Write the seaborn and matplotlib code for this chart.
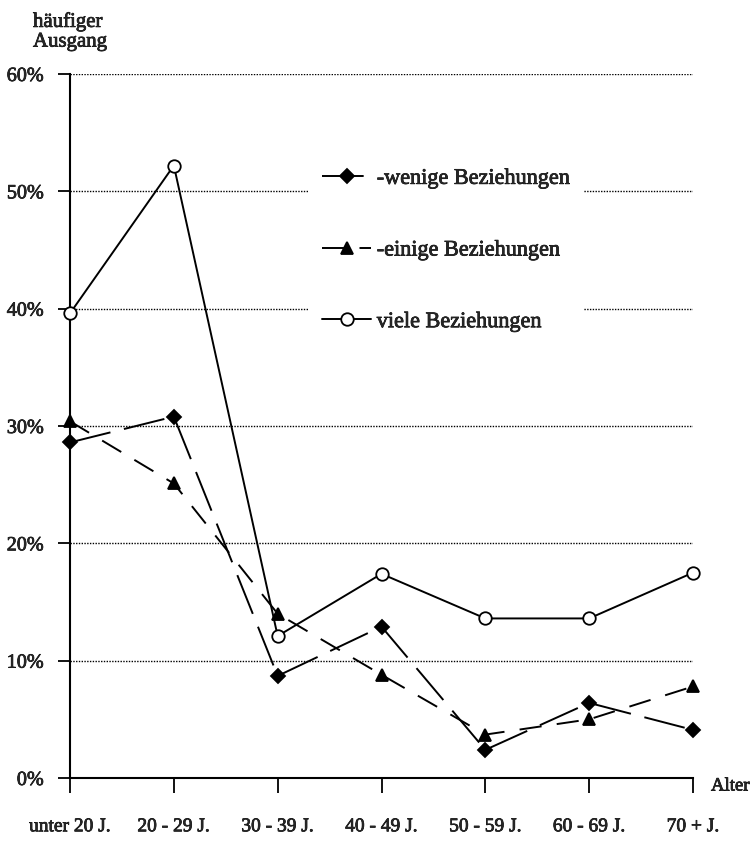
import matplotlib
matplotlib.use("Agg")
import matplotlib.pyplot as plt
import matplotlib.patheffects as pe
import seaborn as sns
import pandas as pd
import numpy as np

# ---- data ----
categories = ["unter 20 J.", "20 - 29 J.", "30 - 39 J.", "40 - 49 J.",
              "50 - 59 J.", "60 - 69 J.", "70 + J."]
wenige = [28.6, 30.8, 8.7, 12.9, 2.4, 6.4, 4.1]
einige = [30.4, 25.1, 14.0, 8.8, 3.7, 5.0, 7.8]
viele = [39.6, 52.2, 12.1, 17.4, 13.6, 13.6, 17.5]
series_labels = ["-wenige Beziehungen", "-einige Beziehungen", "viele Beziehungen"]
y_ticks = [0, 10, 20, 30, 40, 50, 60]
y_ticklabels = ["0%", "10%", "20%", "30%", "40%", "50%", "60%"]

sns.set_theme(style="white")
plt.rcParams["font.family"] = ["Liberation Serif", "DejaVu Serif"]
plt.rcParams["lines.scale_dashes"] = False

bold_fx = [pe.withStroke(linewidth=0.5, foreground="black")]

fig = plt.figure(figsize=(7.52, 8.44), dpi=100)
ax = fig.add_axes([70 / 752, 66 / 844, 623 / 752, 704 / 844])

pos = np.arange(len(categories))
styles = [
    dict(marker="D", markersize=7.5, markerfacecolor="black"),
    dict(marker="^", markersize=9, markerfacecolor="black"),
    dict(marker="o", markersize=9, markerfacecolor="white"),
]
for vals, st in zip([wenige, einige, viele], styles):
    df = pd.DataFrame({"pos": pos, "val": vals})
    sns.lineplot(data=df, x="pos", y="val", ax=ax, color="black", lw=1.4,
                 marker=st["marker"], markersize=st["markersize"],
                 markerfacecolor=st["markerfacecolor"], markeredgecolor="black",
                 markeredgewidth=1.3, clip_on=False, zorder=5, legend=False)

lines = ax.get_lines()
lines[0].set_dashes((30, 10))
lines[1].set_dashes((16, 11))
lines[2].set_linestyle("-")

ax.set_xlim(0, 6)
ax.set_ylim(0, 60)
ax.set_yticks(y_ticks)
ax.set_yticklabels(y_ticklabels, fontsize=14.5)
ax.set_xticks(pos)
ax.set_xticklabels(categories, fontsize=14)
ax.set_xlabel("")
ax.set_ylabel("")
for t in ax.get_xticklabels() + ax.get_yticklabels():
    t.set_path_effects(bold_fx)

for y in y_ticks[1:]:
    ax.axhline(y, color="black", lw=1.0, ls=(0, (1, 1)), zorder=1)

for s in ["top", "right"]:
    ax.spines[s].set_visible(False)
for s in ["left", "bottom"]:
    ax.spines[s].set_color("black")
    ax.spines[s].set_linewidth(1.5)

ax.tick_params(axis="y", direction="out", length=9, width=1.3, color="black", pad=10, left=True)
ax.tick_params(axis="x", direction="out", length=11, width=1.3, color="black", pad=18, bottom=True)

leg = ax.legend(lines, series_labels, loc="upper left",
                bbox_to_anchor=(0.3836, 0.885), borderaxespad=0,
                fontsize=16, handlelength=2.2, handletextpad=0.25,
                labelspacing=2.3, borderpad=0.6, frameon=True)
leg.get_frame().set_facecolor("white")
leg.get_frame().set_edgecolor("none")
leg.get_frame().set_alpha(1)
leg.get_frame().set_boxstyle("square", pad=0)
leg.set_zorder(4)
for t in leg.get_texts():
    t.set_path_effects(bold_fx)

fig.text(33 / 752, 1 - 12 / 844, "häufiger\nAusgang", fontsize=15,
         ha="left", va="top", linespacing=1.05, path_effects=bold_fx)
fig.text(711 / 752, 1 - 786 / 844, "Alter", fontsize=13.5, ha="left",
         va="center", path_effects=bold_fx)

fig.savefig("out.png", dpi=100)
